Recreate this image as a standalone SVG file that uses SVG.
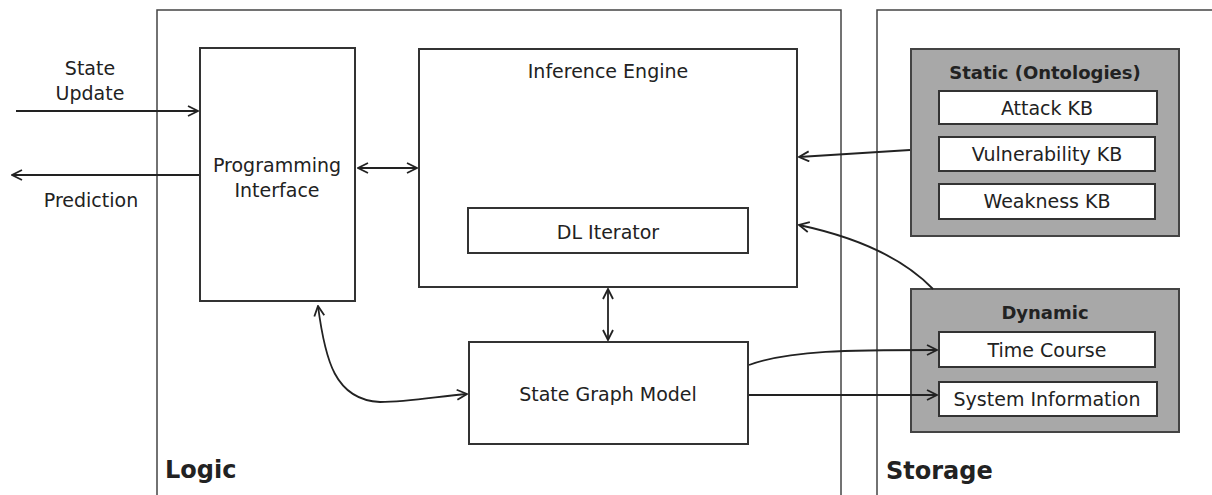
<svg xmlns="http://www.w3.org/2000/svg" width="1212" height="495" viewBox="0 0 1212 495">
<style>
text{font-family:"DejaVu Sans","Liberation Sans",sans-serif;fill:#222;font-size:19px;text-anchor:middle}
.b{font-weight:bold;font-size:18px}
.t{font-weight:bold;font-size:24px;text-anchor:start}
.outer{fill:none;stroke:#444;stroke-width:1.5}
.box{fill:#fff;stroke:#333;stroke-width:2}
.grp{fill:#a8a8a8;stroke:#444;stroke-width:2}
.c{fill:none;stroke:#222;stroke-width:1.8;marker-end:url(#ah)}
.d{marker-start:url(#ah)}
</style>
<defs>
<marker id="ah" viewBox="0 0 12 12" refX="11" refY="6" markerWidth="12" markerHeight="12" markerUnits="userSpaceOnUse" orient="auto-start-reverse">
<path d="M1,1 L11,6 L1,11" fill="none" stroke="#222" stroke-width="1.8"/>
</marker>
</defs>
<rect width="1212" height="495" fill="#fff"/>
<g id="logic">
<rect class="outer" x="157" y="10" width="684" height="490"/>
<text class="t" x="165" y="478">Logic</text>
</g>
<g id="storage">
<rect class="outer" x="877" y="10" width="345" height="490"/>
<text class="t" x="886" y="479">Storage</text>
</g>
<g id="programming-interface">
<rect class="box" x="200" y="48" width="155" height="253"/>
<text x="277" y="172">Programming</text>
<text x="277" y="197">Interface</text>
</g>
<g id="inference-engine">
<rect class="box" x="419" y="49" width="378" height="238"/>
<text x="608" y="78">Inference Engine</text>
</g>
<g id="dl-iterator">
<rect class="box" x="468" y="208" width="280" height="45"/>
<text x="608" y="239">DL Iterator</text>
</g>
<g id="state-graph-model">
<rect class="box" x="469" y="342" width="279" height="102"/>
<text x="608" y="401">State Graph Model</text>
</g>
<g id="static">
<rect class="grp" x="911" y="49" width="268" height="187"/>
<text class="b" x="1045" y="79">Static (Ontologies)</text>
</g>
<g id="attack-kb">
<rect class="box" x="939" y="91" width="218" height="33"/>
<text x="1047" y="115">Attack KB</text>
</g>
<g id="vulnerability-kb">
<rect class="box" x="939" y="137" width="216" height="34"/>
<text x="1047" y="161">Vulnerability KB</text>
</g>
<g id="weakness-kb">
<rect class="box" x="939" y="184" width="216" height="35"/>
<text x="1047" y="208">Weakness KB</text>
</g>
<g id="dynamic">
<rect class="grp" x="911" y="289" width="268" height="143"/>
<text class="b" x="1045" y="319">Dynamic</text>
</g>
<g id="time-course">
<rect class="box" x="939" y="332" width="216" height="35"/>
<text x="1047" y="357">Time Course</text>
</g>
<g id="system-information">
<rect class="box" x="939" y="382" width="218" height="34"/>
<text x="1047" y="406">System Information</text>
</g>
<g id="state-update-label">
<text x="90" y="75">State</text>
<text x="90" y="100">Update</text>
</g>
<g id="prediction-label">
<text x="91" y="207">Prediction</text>
</g>
<g id="connectors">
<path class="c" d="M16,111 L198,111"/>
<path class="c" d="M199,175 L12,175"/>
<path class="c d" d="M358,168 L417,168"/>
<path class="c" d="M910,150 L799,157"/>
<path class="c" d="M933,289 C905,260 860,238 799,225"/>
<path class="c d" d="M608,289 L608,340"/>
<path class="c d" d="M318,306 C325,360 335,400 380,402 C410,402 440,396 467,394"/>
<path class="c" d="M749,365 C790,350 850,350 937,350"/>
<path class="c" d="M749,395 L937,395"/>
</g>
</svg>
